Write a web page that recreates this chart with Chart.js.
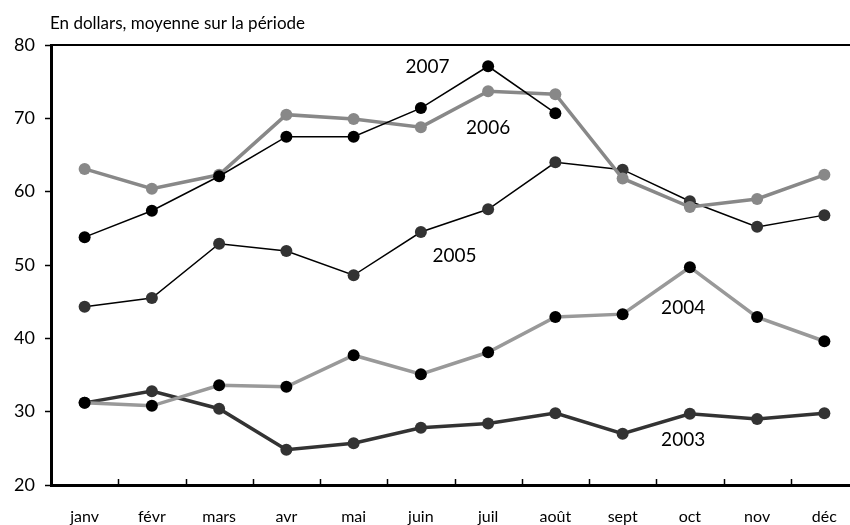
<!DOCTYPE html>
<html lang="fr">
<head>
<meta charset="UTF-8">
<title>Prix moyen</title>
<script src="https://cdn.jsdelivr.net/npm/chart.js"></script>
<style>
    body { margin: 0; background: #fff; overflow: hidden; }
</style>
</head>
<body>
<canvas id="graf" width="864" height="525"></canvas>
<script>
const mois = ['janv', 'févr', 'mars', 'avr', 'mai', 'juin', 'juil', 'août', 'sept', 'oct', 'nov', 'déc'];
const y2003 = [31.2, 32.8, 30.4, 24.8, 25.7, 27.8, 28.4, 29.8, 27.0, 29.7, 29.0, 29.8];
const y2004 = [31.2, 30.8, 33.6, 33.4, 37.7, 35.1, 38.1, 42.9, 43.3, 49.7, 42.9, 39.6];
const y2005 = [44.3, 45.5, 52.9, 51.9, 48.6, 54.5, 57.6, 64.0, 63.0, 58.7, 55.2, 56.8];
const y2006 = [63.1, 60.4, 62.3, 70.5, 69.9, 68.8, 73.7, 73.3, 61.8, 57.9, 59.0, 62.3];
const y2007 = [53.8, 57.4, 62.1, 67.5, 67.5, 71.4, 77.1, 70.7, null, null, null, null];
const yTicks = [20, 30, 40, 50, 60, 70, 80];
// étiquettes des séries : [texte, position mois (index), valeur]
const etiquettes = [
    ['2007', 5.1, 77.0],
    ['2006', 6.0, 68.7],
    ['2005', 5.5, 51.2],
    ['2004', 8.9, 44.2],
    ['2003', 8.9, 26.2]
];

const police = "'Lato', 'Open Sans', sans-serif";

const decor = {
    id: 'decor',
    afterDraw(chart) {
        const ctx = chart.ctx;
        const a = chart.chartArea;
        const x = chart.scales.x;
        const y = chart.scales.y;
        ctx.save();
        // ligne du haut
        ctx.strokeStyle = '#000';
        ctx.lineWidth = 2;
        ctx.beginPath();
        ctx.moveTo(a.left, a.top);
        ctx.lineTo(chart.width, a.top);
        ctx.stroke();
        // graduations de l'axe des mois, vers l'intérieur
        ctx.lineWidth = 1.5;
        for (let i = 1; i < mois.length; i++) {
            const px = Math.round(x.getPixelForValue(i - 0.5)) + 0.5;
            ctx.beginPath();
            ctx.moveTo(px, a.bottom);
            ctx.lineTo(px, a.bottom - 6);
            ctx.stroke();
        }
        // titre
        ctx.fillStyle = '#000';
        ctx.font = '17px ' + police;
        ctx.textAlign = 'left';
        ctx.textBaseline = 'middle';
        ctx.fillText('En dollars, moyenne sur la période', 50, 24);
        // étiquettes des séries
        ctx.font = '19px ' + police;
        ctx.textAlign = 'center';
        etiquettes.forEach(e => {
            ctx.fillText(e[0], x.getPixelForValue(e[1]), y.getPixelForValue(e[2]));
        });
        ctx.restore();
    }
};

function serie(label, data, ligne, point, epaisseur, ordre) {
    return {
        label: label,
        data: data,
        borderColor: ligne,
        borderWidth: epaisseur,
        backgroundColor: point,
        pointBackgroundColor: point,
        pointBorderColor: point,
        pointRadius: 6,
        pointBorderWidth: 0,
        tension: 0,
        spanGaps: false,
        order: ordre
    };
}

new Chart(document.getElementById('graf'), {
    type: 'line',
    data: {
        labels: mois,
        datasets: [
            serie('2007', y2007, '#000000', '#000000', 1.5, 1),
            serie('2004', y2004, '#999999', '#000000', 3.5, 2),
            serie('2006', y2006, '#888888', '#888888', 3.5, 3),
            serie('2005', y2005, '#000000', '#333333', 1.5, 4),
            serie('2003', y2003, '#333333', '#333333', 3.5, 5)
        ]
    },
    options: {
        responsive: false,
        animation: false,
        layout: { padding: { top: 45, right: 0, left: 0, bottom: 0 } },
        plugins: {
            legend: { display: false },
            tooltip: { enabled: false }
        },
        scales: {
            x: {
                offset: true,
                grid: { display: false, drawTicks: false },
                border: { color: '#000', width: 3 },
                ticks: { color: '#000', font: { family: police, size: 16 }, padding: 22, maxRotation: 0 },
                afterFit(s) { s.height = 40; }
            },
            y: {
                min: 20,
                max: 80,
                afterBuildTicks(s) { s.ticks = yTicks.map(v => ({ value: v })); },
                grid: { drawOnChartArea: false, tickLength: 6, color: '#000', tickWidth: 1.5 },
                border: { color: '#000', width: 3 },
                ticks: { color: '#000', font: { family: police, size: 18 }, padding: 10 },
                afterFit(s) { s.width = 51; }
            }
        }
    },
    plugins: [decor]
});
</script>
</body>
</html>
